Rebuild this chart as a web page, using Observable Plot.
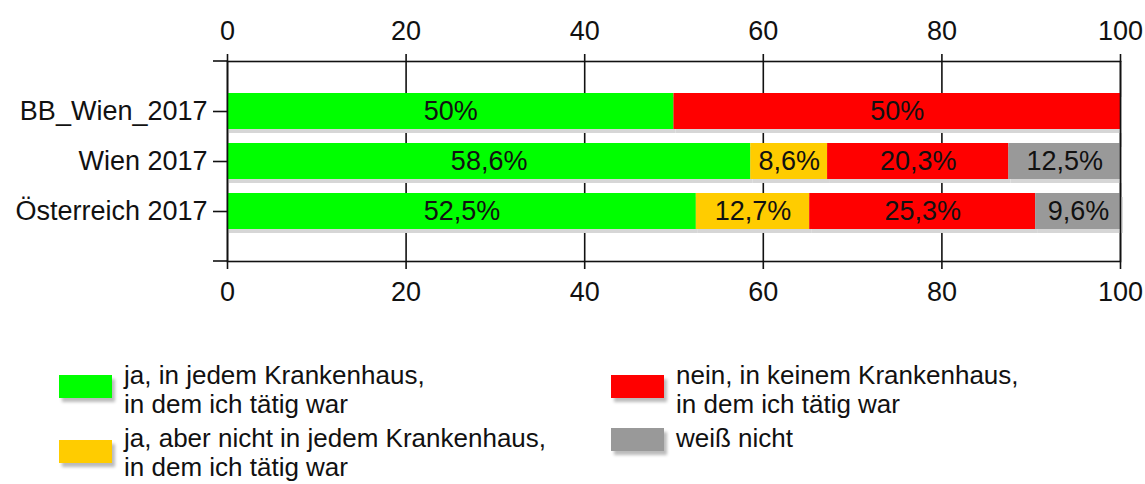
<!DOCTYPE html>
<html>
<head>
<meta charset="utf-8">
<script src="https://cdn.jsdelivr.net/npm/d3@7"></script>
<script src="https://cdn.jsdelivr.net/npm/@observablehq/plot@0.6"></script>
<style>
  body { margin: 0; background: #fff; font-family: "Liberation Sans", Arial, sans-serif; }
  #wrap { position: relative; width: 1145px; height: 484px; overflow: hidden; }
  .leg { position: absolute; font-size: 26px; line-height: 29px; color: #111; }
  .sw { position: absolute; width: 53px; height: 23px; box-shadow: 3px 4px 3px #bbb; }
  .lt { position: absolute; white-space: nowrap; }
</style>
</head>
<body>
<div id="wrap"><div id="chart"></div><div id="legend"></div></div>
<script>
const categories = ["BB_Wien_2017", "Wien 2017", "Österreich 2017"];
const responses = [
  "ja, in jedem Krankenhaus, in dem ich tätig war",
  "ja, aber nicht in jedem Krankenhaus, in dem ich tätig war",
  "nein, in keinem Krankenhaus, in dem ich tätig war",
  "weiß nicht"
];
const legendLines = [
  ["ja, in jedem Krankenhaus,", "in dem ich tätig war"],
  ["ja, aber nicht in jedem Krankenhaus,", "in dem ich tätig war"],
  ["nein, in keinem Krankenhaus,", "in dem ich tätig war"],
  ["weiß nicht"]
];
const colors = ["#00ff00", "#ffcc00", "#ff0000", "#999999"];
const bbWien = [50, 0, 50, 0];
const wien = [58.6, 8.6, 20.3, 12.5];
const oesterreich = [52.5, 12.7, 25.3, 9.6];
const xTicks = [0, 20, 40, 60, 80, 100];

const series = [bbWien, wien, oesterreich];
const data = [];
categories.forEach((c, i) => responses.forEach((r, j) => {
  if (series[i][j] > 0) data.push({cat: c, resp: r, value: series[i][j]});
}));
const fmt = v => String(v).replace(".", ",") + "%";

const font = `"Liberation Sans", Arial, sans-serif`;
const chart = Plot.plot({
  width: 1145,
  height: 315,
  marginLeft: 227,
  marginRight: 25,
  marginTop: 61,
  marginBottom: 54,
  style: {fontFamily: font, fontSize: "27px", color: "#111", background: "white"},
  x: {domain: [0, 100], ticks: xTicks},
  y: {domain: categories, paddingInner: 0.28, paddingOuter: 0.64, label: null},
  color: {domain: responses, range: colors},
  marks: [
    Plot.gridX(xTicks, {stroke: "#111", strokeOpacity: 1, strokeWidth: 1.6}),
    Plot.barX(data, Plot.stackX({x: "value", y: "cat", fill: "#d6d6d6", dy: 4, dx: 2})),
    Plot.barX(data, Plot.stackX({x: "value", y: "cat", fill: "resp"})),
    Plot.text(data, Plot.stackX({x: "value", y: "cat", z: "resp", text: d => fmt(d.value), fill: "#111", fontSize: 27})),
    Plot.frame({stroke: "#111", strokeWidth: 1.6}),
    Plot.axisX({anchor: "top", ticks: xTicks, tickSize: 8, tickPadding: 14, label: null, strokeWidth: 1.6}),
    Plot.axisX({anchor: "bottom", ticks: xTicks, tickSize: 8, tickPadding: 12, label: null, strokeWidth: 1.6}),
    Plot.axisY({tickSize: 14, tickPadding: 6, label: null, strokeWidth: 1.6})
  ]
});
document.getElementById("chart").appendChild(chart);

// extend frame top/bottom lines leftwards (like tick marks of the category axis)
const svg = d3.select(chart);
[61, 261].forEach(yy => {
  svg.append("line").attr("x1", 213).attr("x2", 227).attr("y1", yy).attr("y2", yy)
    .attr("stroke", "#111").attr("stroke-width", 1.6);
});

const legend = document.getElementById("legend");
const pos = [
  {x: 59, ty: 361, sy: 375},
  {x: 59, ty: 424, sy: 440},
  {x: 611, ty: 361, sy: 375},
  {x: 611, ty: 424, sy: 428}
];
responses.forEach((r, i) => {
  const p = pos[i];
  const sw = document.createElement("div");
  sw.className = "sw";
  sw.style.left = p.x + "px";
  sw.style.top = p.sy + "px";
  sw.style.background = colors[i];
  legend.appendChild(sw);
  const t = document.createElement("div");
  t.className = "leg lt";
  t.style.left = (p.x + 65) + "px";
  t.style.top = p.ty + "px";
  t.innerHTML = legendLines[i].join("<br>");
  legend.appendChild(t);
});
</script>
</body>
</html>
